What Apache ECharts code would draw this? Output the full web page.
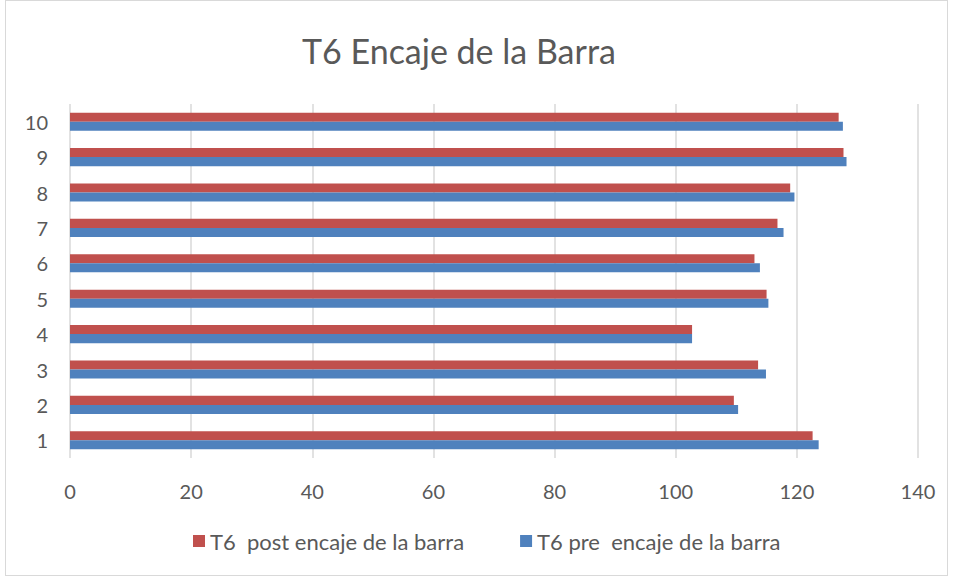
<!DOCTYPE html>
<html>
<head>
<meta charset="utf-8">
<script src="https://cdn.jsdelivr.net/npm/echarts@6/dist/echarts.min.js"></script>
<style>
  html, body { margin: 0; padding: 0; background: #fff; }
  #wrap { position: absolute; left: 5px; top: 0; width: 943px; height: 576px; border: 1px solid #d9d9d9; box-sizing: border-box; }
  #chart { position: absolute; left: 0; top: 0; width: 955px; height: 578px; }
</style>
</head>
<body>
<div id="wrap"></div>
<div id="chart"></div>
<script>
// categories (bottom to top) and series values
var categories = ['1', '2', '3', '4', '5', '6', '7', '8', '9', '10'];
var postValues = [122.6, 109.6, 113.6, 102.7, 115.0, 113.0, 116.8, 118.9, 127.7, 126.9];
var preValues  = [123.6, 110.3, 114.9, 102.7, 115.3, 113.9, 117.8, 119.6, 128.2, 127.6];
var postName = 'T6  post encaje de la barra';
var preName = 'T6 pre  encaje de la barra';

var textColor = '#595959';
var gridColor = '#d9d9d9';
var font = 'Lato, "Open Sans", sans-serif';

var chart = echarts.init(document.getElementById('chart'), null, { renderer: 'svg' });
chart.setOption({
  animation: false,
  title: {
    text: 'T6 Encaje de la Barra',
    left: 297,
    top: 28,
    textStyle: { color: textColor, fontSize: 34, fontWeight: 'normal', fontFamily: font }
  },
  legend: {
    data: [postName, preName],
    bottom: 21,
    left: 188,
    itemWidth: 12,
    itemHeight: 12,
    itemGap: 56,
    icon: 'rect',
    textStyle: { color: textColor, fontSize: 22, fontFamily: font }
  },
  grid: { left: 70, right: 37, top: 104, bottom: 120 },
  xAxis: {
    type: 'value',
    min: 0,
    max: 140,
    interval: 20,
    axisLine: { show: false },
    axisTick: { show: false },
    splitLine: { lineStyle: { color: gridColor, width: 1.5 } },
    axisLabel: { color: textColor, fontSize: 20, fontFamily: font, margin: 23 }
  },
  yAxis: {
    type: 'category',
    data: categories,
    axisLine: { show: false },
    axisTick: { show: false },
    axisLabel: { color: textColor, fontSize: 20, fontFamily: font, margin: 22 }
  },
  series: [
    {
      name: postName,
      type: 'bar',
      data: postValues,
      barGap: '0%',
      barCategoryGap: '49%',
      itemStyle: { color: '#c0504d' }
    },
    {
      name: preName,
      type: 'bar',
      data: preValues,
      barGap: '0%',
      barCategoryGap: '49%',
      itemStyle: { color: '#4f81bd' }
    }
  ]
});
window.addEventListener('resize', function() { chart.resize(); });
</script>
</body>
</html>
